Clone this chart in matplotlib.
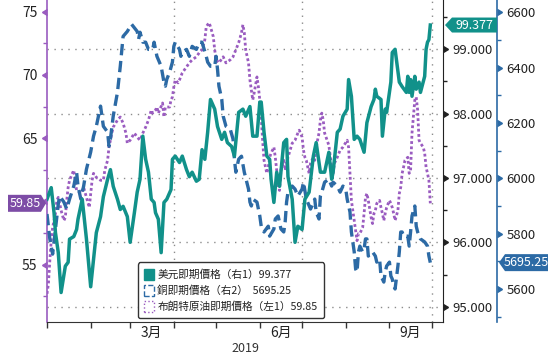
import numpy as np
import pandas as pd
import matplotlib
matplotlib.use('Agg')
import matplotlib.pyplot as plt
import matplotlib.dates as mdates
import matplotlib.markers as mmarkers
from matplotlib.transforms import blended_transform_factory, Affine2D, ScaledTranslation
from matplotlib.patches import Patch, Polygon
from matplotlib.ticker import MultipleLocator, FixedLocator, FixedFormatter, NullFormatter, FormatStrFormatter

plt.rcParams['font.family'] = ['Noto Sans CJK TC', 'DejaVu Sans']

# ---------------- data (days counted from 2019-01-01) ----------------
usd_day = [0, 3, 5, 6, 8, 10, 13, 15, 16, 19,
           21, 22, 25, 26, 28, 31, 33, 35, 38, 40,
           43, 45, 47, 50, 52, 54, 57, 59, 62, 64,
           66, 68, 70, 72, 74, 76, 77, 79, 81, 83,
           85, 88, 89, 91, 94, 96, 99, 101, 103, 106,
           108, 110, 112, 114, 116, 119, 121, 124, 126, 128,
           131, 133, 136, 139, 141, 144, 146, 149, 151, 152,
           154, 156, 158, 159, 161, 163, 165, 168, 170, 171,
           174, 176, 178, 181, 183, 186, 189, 191, 194, 197,
           200, 202, 203, 206, 208, 210, 213, 214, 216, 218,
           220, 222, 225, 227, 230, 232, 233, 234, 237, 238,
           240, 241, 244, 245, 247, 250, 252, 255, 256, 257,
           258, 259, 261, 262, 264, 265, 268, 269, 270, 271,
           272]
usd_val = [96.67, 96.85, 96.46, 96.15, 95.84, 95.22, 95.63, 95.69, 96.05, 96.09,
           96.20, 96.36, 96.67, 96.46, 96.05, 95.31, 95.73, 96.15, 96.40, 96.71,
           96.98, 97.13, 96.87, 96.67, 96.51, 96.56, 96.40, 96.00, 96.46, 96.78,
           96.98, 97.65, 97.29, 97.09, 96.67, 96.62, 96.46, 96.36, 95.84, 96.62,
           96.67, 96.82, 97.29, 97.34, 97.24, 97.34, 97.13, 97.02, 97.09, 96.95,
           96.98, 97.44, 97.29, 97.71, 98.22, 98.07, 97.80, 97.60, 97.71, 97.55,
           97.49, 97.34, 98.02, 98.07, 97.96, 98.11, 97.65, 97.65, 98.18, 98.18,
           97.71, 97.34, 97.29, 96.98, 96.62, 97.09, 96.87, 97.55, 97.60, 97.02,
           96.67, 96.00, 96.25, 96.20, 96.67, 96.78, 97.34, 97.55, 97.09, 97.09,
           97.40, 96.98, 97.09, 97.71, 97.76, 97.96, 98.07, 98.53, 98.27, 97.60,
           97.65, 97.60, 97.40, 97.86, 98.11, 98.22, 98.38, 98.27, 98.22, 97.65,
           98.07, 98.02, 98.49, 98.95, 99.00, 98.49, 98.42, 98.33, 98.58, 98.33,
           98.53, 98.27, 98.58, 98.38, 98.49, 98.33, 98.58, 99.00, 99.11, 99.15,
           99.377]

cu_day = [0, 2, 4, 6, 8, 9, 12, 14, 16, 19,
          21, 22, 24, 26, 28, 31, 33, 35, 38, 40,
          43, 44, 45, 47, 50, 52, 54, 57, 60, 64,
          65, 66, 68, 70, 72, 75, 76, 78, 81, 83,
          84, 85, 87, 89, 90, 91, 94, 95, 96, 99,
          101, 103, 106, 108, 110, 113, 114, 116, 119, 120,
          121, 122, 124, 125, 127, 130, 132, 133, 134, 136,
          138, 140, 143, 144, 145, 146, 149, 151, 152, 154,
          157, 158, 161, 162, 164, 166, 168, 169, 170, 171,
          174, 176, 178, 181, 182, 184, 187, 188, 190, 191,
          193, 194, 195, 197, 200, 202, 203, 206, 208, 210,
          212, 213, 215, 216, 218, 219, 220, 221, 222, 224,
          225, 226, 227, 228, 231, 233, 234, 236, 237, 239,
          240, 241, 243, 244, 245, 246, 247, 249, 250, 251,
          252, 253, 256, 257, 258, 259, 261, 262, 263, 265,
          268, 270, 271, 272]
cu_val = [5871, 5781, 5726, 5817, 5907, 5936, 5914, 5889, 5925, 5972,
          6022, 5972, 5925, 5972, 6033, 6095, 6152, 6188, 6261, 6188,
          6167, 6116, 6142, 6225, 6311, 6405, 6513, 6531, 6557, 6531,
          6503, 6528, 6492, 6492, 6466, 6466, 6492, 6441, 6405, 6347,
          6333, 6358, 6383, 6420, 6477, 6492, 6466, 6441, 6456, 6466,
          6441, 6477, 6466, 6492, 6492, 6441, 6420, 6405, 6405, 6441,
          6394, 6333, 6286, 6225, 6188, 6178, 6142, 6069, 6022, 6069,
          6080, 6022, 5961, 5914, 5900, 5925, 5914, 5864, 5827, 5806,
          5827, 5791, 5817, 5853, 5864, 5817, 5806, 5842, 5914, 5950,
          5972, 5961, 5936, 5961, 5986, 5925, 5889, 5900, 5925, 5878,
          5853, 5936, 5950, 5986, 5997, 5972, 5986, 5972, 5950, 5972,
          5961, 5925, 5878, 5806, 5734, 5672, 5661, 5734, 5755, 5734,
          5744, 5781, 5781, 5719, 5734, 5719, 5697, 5708, 5647, 5625,
          5661, 5683, 5697, 5647, 5636, 5611, 5600, 5683, 5734, 5806,
          5806, 5791, 5791, 5755, 5806, 5864, 5900, 5827, 5806, 5781,
          5770, 5755, 5719, 5695.25]

oil_day = [0, 1, 2, 3, 4, 6, 7, 8, 9, 10,
           12, 13, 14, 15, 16, 18, 19, 20, 21, 24,
           26, 28, 30, 31, 32, 33, 35, 38, 40, 41,
           43, 44, 45, 46, 47, 50, 52, 54, 56, 57,
           59, 62, 64, 66, 68, 70, 72, 74, 75, 77,
           78, 79, 82, 83, 84, 87, 88, 89, 90, 91,
           93, 94, 96, 99, 101, 103, 106, 108, 110, 112,
           113, 115, 116, 118, 119, 120, 122, 125, 127, 130,
           132, 134, 136, 138, 139, 140, 141, 143, 144, 145,
           146, 147, 149, 150, 151, 152, 153, 154, 156, 157,
           158, 159, 161, 162, 163, 164, 165, 166, 168, 169,
           171, 174, 176, 178, 179, 181, 182, 183, 184, 186,
           187, 188, 189, 190, 191, 193, 194, 195, 196, 197,
           200, 202, 203, 204, 206, 208, 210, 213, 214, 215,
           216, 218, 220, 221, 222, 224, 225, 226, 227, 228,
           230, 231, 232, 233, 234, 236, 237, 238, 239, 240,
           241, 243, 244, 245, 246, 247, 249, 250, 251, 252,
           253, 254, 256, 257, 258, 259, 261, 262, 263, 264,
           265, 267, 268, 269, 270, 271, 272]
oil_val = [52.70, 53.49, 55.32, 56.90, 57.94, 59.05, 60.08, 60.32, 59.84, 59.29,
           58.49, 58.73, 60.08, 61.11, 61.67, 62.22, 62.46, 61.67, 60.87, 60.63,
           61.11, 60.32, 59.52, 60.63, 61.67, 62.22, 61.90, 61.67, 61.67, 62.46,
           63.25, 64.29, 64.84, 65.40, 65.87, 66.43, 66.67, 66.19, 65.40, 64.60,
           64.84, 65.40, 65.08, 64.84, 65.40, 65.87, 66.43, 67.22, 66.98, 67.22,
           67.46, 66.98, 67.78, 66.67, 67.46, 67.46, 68.02, 68.25, 69.05, 69.60,
           69.37, 69.60, 70.16, 70.63, 70.95, 71.19, 71.43, 71.75, 71.98, 72.78,
           73.81, 74.13, 73.81, 73.02, 71.98, 71.19, 70.95, 71.43, 70.95, 71.19,
           71.43, 71.98, 72.54, 73.33, 73.97, 73.33, 71.98, 70.95, 69.60, 68.81,
           68.02, 68.57, 69.84, 69.05, 68.02, 66.67, 64.84, 63.25, 62.22, 62.70,
           63.49, 63.81, 64.29, 63.49, 62.46, 61.11, 60.87, 62.46, 63.25, 62.46,
           63.49, 64.60, 64.84, 65.40, 65.63, 65.08, 64.05, 63.49, 63.25, 62.22,
           63.02, 63.25, 63.49, 63.25, 64.29, 65.40, 66.43, 66.98, 66.43, 65.40,
           64.44, 62.70, 62.22, 63.02, 63.49, 64.05, 64.29, 64.84, 64.29, 62.22,
           60.08, 58.49, 56.90, 57.46, 57.46, 57.94, 59.05, 60.32, 60.63, 60.08,
           58.73, 58.25, 59.05, 59.29, 59.84, 60.08, 59.52, 59.05, 58.49, 59.05,
           59.52, 60.08, 59.84, 59.52, 59.05, 58.49, 59.29, 60.63, 61.11, 62.22,
           62.70, 63.25, 63.49, 62.22, 62.46, 65.40, 68.02, 68.25, 67.22, 64.84,
           64.60, 64.29, 63.81, 62.70, 62.22, 61.67, 59.85]

labels = ['美元即期價格（右1）99.377',
          '銅即期價格（右2）  5695.25',
          '布朗特原油即期價格（左1）59.85']
oil_ticks = [55, 60, 65, 70, 75]
oil_tick_labels = ['55', '', '65', '70', '75']   # 60 is hidden behind the value tag
month_labels = ['3月', '6月', '9月']
year_label = '2019'

TEAL = '#11918a'
BLUE = '#2c6aa5'
PURPLE = '#9a5cc0'
PURPLE_TAG = '#7d4ca6'
GRID = '#8c8c8c'

start = pd.Timestamp('2019-01-01')


def to_dates(days):
    return start + pd.to_timedelta(np.array(days), unit='D')


fig = plt.figure(figsize=(5.57, 3.58), dpi=100)
ax_oil = fig.add_axes([47 / 557, 1 - 322 / 358, 396 / 557, 322 / 358])
ax_cu = ax_oil.twinx()
ax_usd = ax_oil.twinx()

ax_oil.plot(to_dates(oil_day), oil_val, color=PURPLE, lw=2.0, ls=(0, (1, 0.9)), zorder=3)
ax_cu.plot(to_dates(cu_day), cu_val, color=BLUE, lw=2.4, ls=(0, (3.4, 1.7)), zorder=3)
ax_usd.plot(to_dates(usd_day), usd_val, color=TEAL, lw=2.5, zorder=3,
            solid_joinstyle='round')

ax_oil.set_xlim(start, start + pd.Timedelta(days=281))
ax_oil.set_ylim(50.47, 75.92)
ax_usd.set_ylim(94.762, 99.766)
ax_cu.set_ylim(5480.7, 6644.5)

# spines
for s in ['top', 'right']:
    ax_oil.spines[s].set_visible(False)
ax_oil.spines['left'].set_color(PURPLE)
ax_oil.spines['left'].set_linewidth(1.2)
ax_oil.spines['bottom'].set_color('#333333')
for s in ['top', 'left', 'bottom']:
    ax_cu.spines[s].set_visible(False)
    ax_usd.spines[s].set_visible(False)
ax_usd.spines['right'].set_color('#222222')
ax_cu.spines['right'].set_position(('axes', 450 / 396))
ax_cu.spines['right'].set_color(BLUE)
ax_cu.spines['right'].set_linewidth(1.2)

# y ticks
ax_oil.yaxis.set_major_locator(FixedLocator(oil_ticks))
ax_oil.yaxis.set_major_formatter(FixedFormatter(oil_tick_labels))
ax_oil.yaxis.set_minor_locator(MultipleLocator(2.5))
ax_usd.yaxis.set_major_locator(FixedLocator([95, 96, 97, 98, 99]))
ax_usd.yaxis.set_minor_locator(MultipleLocator(0.5))
ax_usd.yaxis.set_major_formatter(FormatStrFormatter('%.3f'))
ax_cu.yaxis.set_major_locator(FixedLocator([5600, 5800, 6000, 6200, 6400, 6600]))
ax_cu.yaxis.set_minor_locator(MultipleLocator(100))

ax_oil.tick_params(axis='y', which='major', length=5, width=1, color=PURPLE,
                   labelcolor='#222222', labelsize=10, pad=2)
ax_oil.tick_params(axis='y', which='minor', length=3, width=1, color=PURPLE)
ax_usd.tick_params(axis='y', which='major', length=5, width=1, color='#222222',
                   labelcolor='#222222', labelsize=9.5, pad=2)
ax_usd.tick_params(axis='y', which='minor', length=3, width=1, color='#222222')
ax_cu.tick_params(axis='y', which='major', length=5, width=1, color=BLUE,
                  labelcolor='#222222', labelsize=9.5, pad=2)
ax_cu.tick_params(axis='y', which='minor', length=3, width=1, color=BLUE)


def caret_ticks(axis, side, color, size):
    for t in axis.get_major_ticks():
        line = t.tick1line if side == 'left' else t.tick2line
        line.set_marker(mmarkers.CARETLEFTBASE if side == 'left' else mmarkers.CARETRIGHTBASE)
        line.set_markersize(size)
        line.set_markerfacecolor(color)
        line.set_markeredgecolor(color)


caret_ticks(ax_oil.yaxis, 'left', PURPLE, 5)
caret_ticks(ax_usd.yaxis, 'right', '#222222', 5)
caret_ticks(ax_cu.yaxis, 'right', BLUE, 5)

# x ticks
ax_oil.xaxis.set_major_locator(mdates.MonthLocator())
ax_oil.xaxis.set_major_formatter(NullFormatter())
mid = [mdates.date2num(pd.Timestamp(d)) for d in ['2019-03-16', '2019-06-16', '2019-09-16']]
ax_oil.xaxis.set_minor_locator(FixedLocator(mid))
ax_oil.xaxis.set_minor_formatter(FixedFormatter(month_labels))
ax_oil.tick_params(axis='x', which='major', length=4, width=1, color='#333333')
ax_oil.tick_params(axis='x', which='minor', length=0, labelsize=10, pad=3,
                   labelcolor='#222222')
ax_oil.text(0.5, -(348 - 322) / 322, year_label, transform=ax_oil.transAxes,
            ha='center', va='center', fontsize=9, color='#333333')

# grid lines (dollar ticks horizontally, quarters vertically)
gtr = blended_transform_factory(ax_oil.transAxes, ax_usd.transData)
for v in [95, 96, 97, 98, 99]:
    ax_oil.plot([0, 1], [v, v], transform=gtr, color=GRID, lw=1, ls=(0, (1, 4)), zorder=1)
for d in ['2019-04-01', '2019-07-01', '2019-10-01']:
    ax_oil.axvline(pd.Timestamp(d), color=GRID, lw=1, ls=(0, (1, 4)), zorder=1)


# value tags
def add_tag(yax, xa, yv, text, color, verts, tx):
    base = blended_transform_factory(ax_oil.transAxes, yax.transData)
    tr = Affine2D() + ScaledTranslation(xa, yv, base)
    poly = Polygon(verts, closed=True, facecolor=color, edgecolor='none',
                   transform=tr, zorder=5)
    fig.add_artist(poly)
    fig.text(tx, 0, text, transform=tr, ha='center', va='center', color='white',
             fontsize=9, zorder=6)


add_tag(ax_usd, (445 - 47) / 396, usd_val[-1], '99.377', TEAL,
        [(0, 0), (7, 7.5), (52, 7.5), (52, -7.5), (7, -7.5)], 29.5)
add_tag(ax_cu, (499 - 47) / 396, cu_val[-1], '5695.25', BLUE,
        [(0, 0), (6, 8.5), (49, 8.5), (49, -8.5), (6, -8.5)], 27.5)
add_tag(ax_oil, -1 / 396, oil_val[-1], '59.85', PURPLE_TAG,
        [(0, 0), (-5, 8.5), (-38, 8.5), (-38, -8.5), (-5, -8.5)], -21)

# legend
handles = [Patch(facecolor=TEAL, edgecolor=TEAL),
           Patch(facecolor='white', edgecolor=BLUE, linestyle='--', linewidth=1),
           Patch(facecolor='white', edgecolor=PURPLE, linestyle=':', linewidth=1)]
leg = ax_usd.legend(handles, labels, loc='lower left', bbox_to_anchor=(0.23, 0.012),
                    frameon=True, fancybox=True, edgecolor='#333333', framealpha=1,
                    fontsize=7.7, handlelength=0.9, handleheight=1.2, handletextpad=0.3,
                    labelspacing=0.45, borderpad=0.6, borderaxespad=0)
leg.get_frame().set_linewidth(1.0)
for t in leg.get_texts():
    t.set_color('#222222')
leg.set_zorder(10)

fig.savefig('out.png', dpi=100)
